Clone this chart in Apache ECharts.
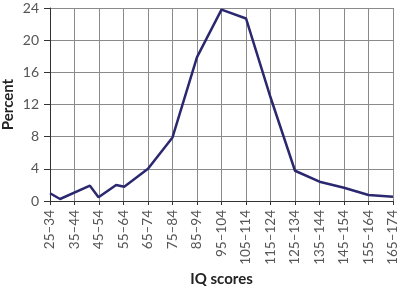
<!DOCTYPE html>
<html>
<head>
<meta charset="utf-8">
<script src="https://cdn.jsdelivr.net/npm/echarts@6/dist/echarts.min.js"></script>
<style>html,body{margin:0;padding:0;background:#fff;}#c{width:400px;height:290px;}</style>
</head>
<body>
<div id="c"></div>
<script>
var categories = ['25–34','35–44','45–54','55–64','65–74','75–84','85–94','95–104','105–114','115–124','125–134','135–144','145–154','155–164','165–174'];
var xPositions = [0, 0.41, 1.63, 1.98, 2.7, 3.03, 4, 5, 6, 7, 8, 9, 10, 11, 12, 13, 14];
var percentValues = [0.96, 0.25, 1.9, 0.46, 2.0, 1.78, 4.0, 7.9, 17.9, 23.8, 22.7, 12.9, 3.76, 2.4, 1.65, 0.74, 0.53];
var yTicks = [0, 4, 8, 12, 16, 20, 24];

var data = xPositions.map(function (x, i) { return [x, percentValues[i]]; });
var font = 'Lato, "Open Sans", sans-serif';
var chart = echarts.init(document.getElementById('c'));
chart.setOption({
  animation: false,
  grid: { left: 50, right: 7, top: 8, bottom: 89, containLabel: false, outerBoundsMode: 'none' },
  xAxis: {
    type: 'value', min: 0, max: categories.length - 1, interval: 1,
    name: 'IQ scores', nameLocation: 'middle', nameGap: 71, nameMoveOverlap: false,
    nameTextStyle: { fontFamily: font, fontWeight: 'bold', fontSize: 15, color: '#222' },
    axisLine: { show: true, lineStyle: { color: '#333', width: 1 } },
    axisTick: { show: true, length: 4, lineStyle: { color: '#333' } },
    axisLabel: { rotate: 90, fontFamily: font, fontSize: 13.5, color: '#555', margin: 9,
      formatter: function (v) { return categories[Math.round(v)] || ''; } },
    splitLine: { show: true, lineStyle: { color: '#8a8a8a', width: 1 } }
  },
  yAxis: {
    type: 'value', min: yTicks[0], max: yTicks[yTicks.length - 1], interval: 4,
    name: 'Percent', nameLocation: 'middle', nameGap: 34, nameMoveOverlap: false,
    nameTextStyle: { fontFamily: font, fontWeight: 'bold', fontSize: 15, color: '#222' },
    axisLine: { show: true, lineStyle: { color: '#333', width: 1 } },
    axisTick: { show: true, length: 6, lineStyle: { color: '#333' } },
    axisLabel: { fontFamily: font, fontSize: 14, color: '#555', margin: 11 },
    splitLine: { show: true, lineStyle: { color: '#8a8a8a', width: 1 } }
  },
  series: [{
    type: 'line', data: data, symbol: 'none',
    lineStyle: { color: '#2b2870', width: 2.5 }
  }]
});
</script>
</body>
</html>
